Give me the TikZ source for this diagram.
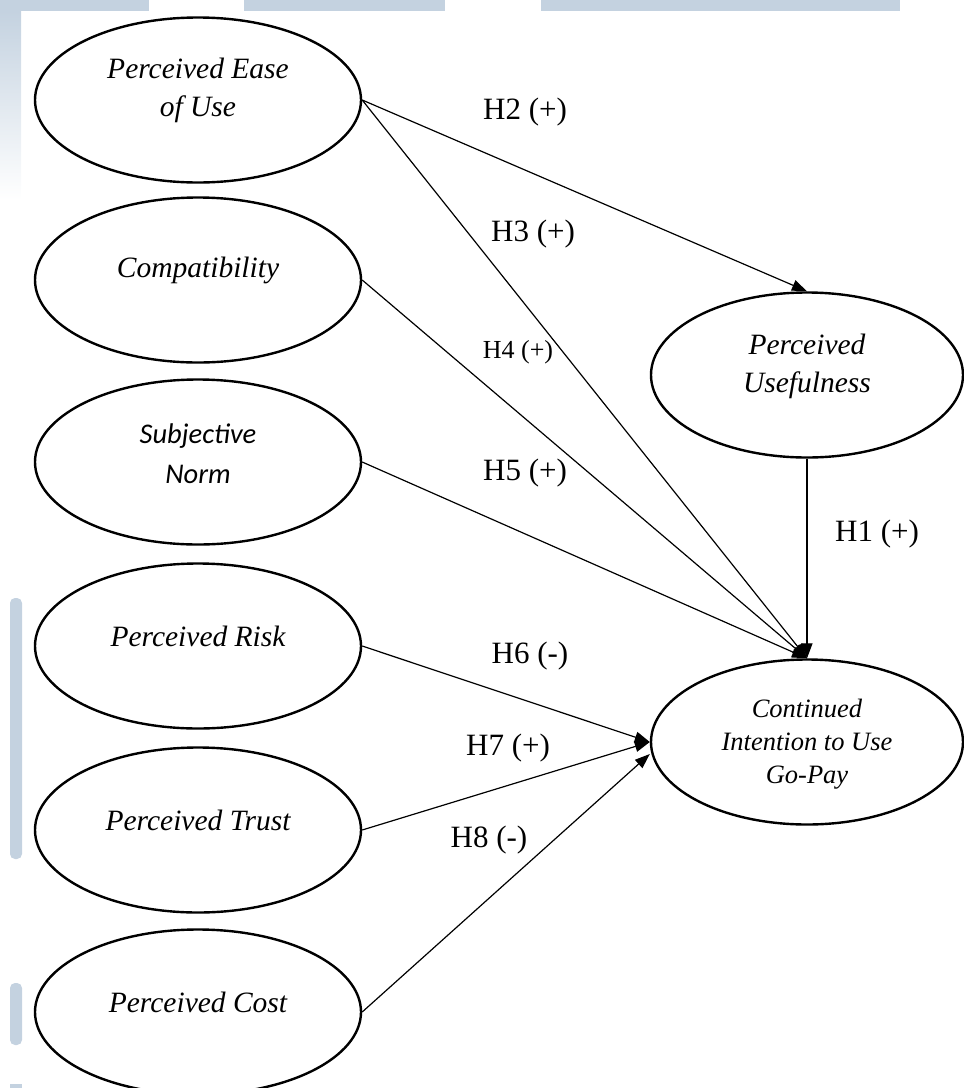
\documentclass[tikz,border=0pt]{standalone}
\usepackage{fontspec}
\setmainfont{Liberation Serif}
\newfontfamily\calibrifont{Carlito}
\usetikzlibrary{shapes.geometric,arrows.meta}
\definecolor{wmblue}{RGB}{196,210,224}

\begin{document}
\begin{tikzpicture}[x=1pt,y=-1pt,
    construct/.style={ellipse, draw, line width=2.4pt, minimum width=326pt, minimum height=165pt, inner sep=0pt},
    ctext/.style={align=center, font=\fontsize{29.5}{38}\selectfont\itshape},
    arrowline/.style={line width=1.2pt, -{Triangle[length=15pt,width=11pt]}},
    hyp/.style={font=\fontsize{31}{36}\selectfont}]
        \useasboundingbox (0,0) rectangle (964,1088);

        % watermark behind the model
        \fill[wmblue] (0,0) rectangle (149,11);
        \fill[wmblue] (244,0) rectangle (445,11);
        \fill[wmblue] (541,0) rectangle (900,11);
        \shade[top color=wmblue, bottom color=white] (0,11) rectangle (21,200);
        \fill[wmblue, rounded corners=5pt] (10,598) rectangle (22,859);
        \fill[wmblue, rounded corners=5pt] (10,983) rectangle (22,1045);
        \fill[wmblue] (10,1084) rectangle (22,1088);

        \node[construct] (peou) at (198,100) {};
        \node[construct] (comp) at (198,280) {};
        \node[construct] (sn) at (198,462) {};
        \node[construct] (pr) at (198,646) {};
        \node[construct] (pt) at (198,830) {};
        \node[construct] (pc) at (198,1012) {};
        \node[construct, minimum width=312pt] (pu) at (807,375) {};
        \node[construct, minimum width=312pt] (ci) at (807,742) {};

        \node[ctext] (peou-t) at (198,90) {Perceived Ease\\of Use};
        \node[ctext] (comp-t) at (198,270) {Compatibility};
        \node[ctext, font=\fontsize{28.5}{40}\selectfont\calibrifont\itshape] (sn-t) at (198,454) {Subjective\\Norm};
        \node[ctext] (pr-t) at (198,636) {Perceived Risk};
        \node[ctext] (pt-t) at (198,820) {Perceived Trust};
        \node[ctext] (pc-t) at (198,1002) {Perceived Cost};
        \node[ctext] (pu-t) at (807,366) {Perceived\\Usefulness};
        \node[ctext, font=\fontsize{26.5}{33}\selectfont\itshape] (ci-t) at (807,744) {Continued\\Intention to Use\\Go-Pay};

        \draw[arrowline] (peou.east) -- (pu.north);
        \draw[arrowline] (peou.east) -- (ci.north);
        \draw[arrowline] (comp.east) -- (ci.north);
        \draw[arrowline] (sn.east) -- (ci.north);
        \draw[arrowline] (pu.south) -- (ci.north);
        \draw[arrowline] (pr.east) -- (ci.west);
        \draw[arrowline] (pt.east) -- (ci.west);
        \draw[arrowline] (pc.east) -- ([yshift=-12pt]ci.west);

        \node[hyp] (h1) at (877,534) {H1 (+)};
        \node[hyp] (h2) at (525,112) {H2 (+)};
        \node[hyp] (h3) at (533,234) {H3 (+)};
        \node[hyp, font=\fontsize{26}{30}\selectfont] (h4) at (518,352) {H4 (+)};
        \node[hyp] (h5) at (525,473) {H5 (+)};
        \node[hyp] (h6) at (530,656) {H6 (-)};
        \node[hyp] (h7) at (508,748) {H7 (+)};
        \node[hyp] (h8) at (489,840) {H8 (-)};

    \end{tikzpicture}
\end{document}
